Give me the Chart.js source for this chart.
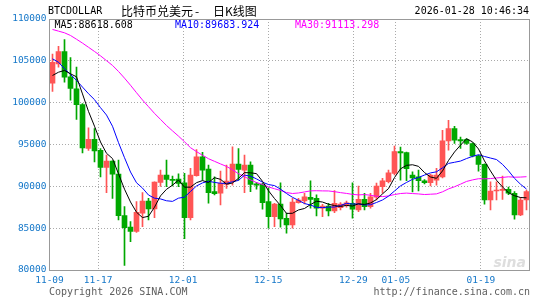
<!DOCTYPE html>
<html>
<head>
<meta charset="utf-8">
<script src="https://cdn.jsdelivr.net/npm/chart.js@4.4.1/dist/chart.umd.min.js"></script>
<style>
  html, body { margin: 0; padding: 0; background: #fff; }
  canvas { display: block; }
</style>
</head>
<body>
<canvas id="kline" width="545" height="300"></canvas>
<script>
// 日K 数据，11-09 起，每天一根
const days = [
  "11-09","11-10","11-11","11-12","11-13","11-14","11-15","11-16","11-17","11-18",
  "11-19","11-20","11-21","11-22","11-23","11-24","11-25","11-26","11-27","11-28",
  "11-29","11-30","12-01","12-02","12-03","12-04","12-05","12-06","12-07","12-08",
  "12-09","12-10","12-11","12-12","12-13","12-14","12-15","12-16","12-17","12-18",
  "12-19","12-20","12-21","12-22","12-23","12-24","12-25","12-26","12-27","12-28",
  "12-29","12-30","12-31","01-01","01-02","01-03","01-04","01-05","01-06","01-07",
  "01-08","01-09","01-10","01-11","01-12","01-13","01-14","01-15","01-16","01-17",
  "01-18","01-19","01-20","01-21","01-22","01-23","01-24","01-25","01-26","01-27"
];

const opens = [
  102330,104640,106100,103100,101650, 99760, 94520, 95630, 94300, 92260,
   93010, 91460, 86500, 85120, 84600, 86790, 88250, 87300, 90480, 91350,
   90830, 90870, 90430, 86260, 91260, 93520, 92060, 89360, 89170, 90240,
   90550, 92650, 91940, 92540, 90300, 90240, 88170, 86380, 87890, 86190,
   85390, 88050, 88250, 88690, 88570, 87380, 87650, 87060, 87450, 87700,
   87980, 87180, 88450, 87570, 88700, 89950, 90550, 91550, 94140, 94020,
   91350, 91140, 90670, 90430, 90750, 91140, 95430, 96900, 95600, 95600,
   95120, 93640, 92620, 88370, 89440, 89520, 89640, 89170, 86580, 88370
];
const highs = [
  105800,106740,107540,105400,104240, 99900, 96980, 96900, 94520, 93730,
   93050, 93130, 87570, 85790, 88170, 89240, 88570, 90550, 91940, 93130,
   91230, 91500, 91550, 92140, 94400, 94050, 92540, 91140, 91820, 92540,
   94710, 94520, 93730, 92930, 90480, 90360, 89830, 87980, 90430, 86790,
   88570, 88570, 89170, 90670, 88970, 87860, 87980, 89480, 88050, 88250,
   90430, 90040, 89170, 89170, 90390, 90950, 91940, 94800, 94700, 94100,
   91740, 91940, 90800, 91430, 92140, 96700, 97890, 97180, 95900, 95700,
   95200, 93730, 92700, 90550, 90550, 91230, 89900, 89360, 88700, 89560
];
const lows = [
  101350,104240,102450,100300, 98000, 94000, 94300, 92930, 91140, 89240,
   88570, 85990, 80550, 83400, 84500, 85190, 85990, 86260, 90000, 89950,
   90040, 89950, 83730, 85990, 91200, 90750, 87980, 88960, 87770, 89760,
   90150, 90750, 89240, 89360, 89650, 87260, 85000, 85190, 85120, 84400,
   85000, 87980, 87890, 87380, 86460, 86380, 86460, 86860, 87180, 87500,
   86190, 86980, 87180, 87400, 88370, 89170, 90400, 91350, 90750, 90670,
   89320, 89440, 90300, 90040, 90150, 91000, 94320, 95120, 94520, 95000,
   93520, 91820, 87860, 87180, 88370, 88450, 89000, 86070, 86500, 87180
];
const closes = [
  104830,106110,103050,101700, 99760, 94600, 95630, 94240, 92260, 93010,
   91460, 86500, 85070, 84600, 86900, 88250, 87300, 90500, 91350, 90830,
   90710, 90360, 86260, 91350, 93520, 91940, 89240, 89120, 90360, 90630,
   92650, 92020, 92540, 90240, 90140, 88050, 86380, 87890, 86110, 85390,
   88130, 88370, 88760, 88450, 87380, 87650, 87060, 87980, 87890, 88020,
   87260, 88450, 87570, 88760, 90040, 90670, 91620, 94140, 93990, 92120,
   91020, 90670, 90430, 91340, 91340, 95430, 96900, 95510, 95430, 95120,
   93640, 92620, 88370, 89440, 89560, 89640, 89170, 86580, 88370, 89360
];

// 均线开头几天缺少更早的收盘价，这部分从图上读取
const ma5Head = [103250, 103640, 103850, 103450];
const ma10Head = [105240, 104830, 104050, 103370, 102660, 101860, 101070, 100360, 99400];
const ma30Head = [
  108750,108550,108350,108030,107580,107120,106620,106120,105600,105020,
  104450,103730,102930,102080,101190,100320, 99520, 98720, 98000, 97270,
   96630, 96000, 95330, 94620, 94150, 93720, 93300, 92990, 92680
];

// 日期刻度（距 11-09 的天数）
const tickDays = [0, 8, 22, 36, 50, 57, 71];
const tickLabels = ["11-09", "11-17", "12-01", "12-15", "12-29", "01-05", "01-19"];
const yTicks = [80000, 85000, 90000, 95000, 100000, 105000, 110000];

function movingAvg(n, head) {
    return closes.map(function (c, i) {
        if (i < n - 1) return head[i];
        let s = 0;
        for (let k = i - n + 1; k <= i; k++) s += closes[k];
        return s / n;
    });
}

const ma5 = movingAvg(5, ma5Head);
const ma10 = movingAvg(10, ma10Head);
const ma30 = movingAvg(30, ma30Head);

const upColor = "#ff5555";
const downColor = "#00a800";
const axisBlue = "#1477c9";
const gridGray = "#aaaaaa";
const mono = "'DejaVu Sans Mono', monospace";
const cjk = "'Noto Sans CJK SC', sans-serif";

const candleColors = closes.map(function (c, i) { return c >= opens[i] ? upColor : downColor; });

// 边框、标题、均线数值、版权
const decorations = {
    id: "decorations",
    afterDraw: function (chart) {
        const ctx = chart.ctx;
        const a = chart.chartArea;
        const l = Math.floor(a.left) + 0.5, t = Math.floor(a.top) + 0.5;
        const r = Math.floor(a.right) + 0.5, b = Math.floor(a.bottom) + 0.5;
        ctx.save();
        ctx.strokeStyle = "#999";
        ctx.lineWidth = 1;
        ctx.strokeRect(l, t, r - l, b - t);

        ctx.textBaseline = "middle";
        ctx.font = "10px " + mono;
        ctx.fillStyle = "#000";
        ctx.textAlign = "left";
        ctx.fillText("BTCDOLLAR", 48, 11);
        ctx.textAlign = "right";
        ctx.fillText("2026-01-28 10:46:34", 529, 11);

        ctx.textAlign = "left";
        ctx.font = "12px " + cjk;
        ctx.fillText("比特币兑美元", 121, 11);
        ctx.fillText("-", 195, 11);
        ctx.fillText("日K线图", 213, 11);

        ctx.font = "10px " + mono;
        ctx.fillStyle = "#000";
        ctx.fillText("MA5:88618.608", 54.5, 25);
        ctx.fillStyle = "#0000ff";
        ctx.fillText("MA10:89683.924", 175, 25);
        ctx.fillStyle = "#ff00ff";
        ctx.fillText("MA30:91113.298", 295, 25);

        ctx.fillStyle = "#606060";
        ctx.fillText("Copyright 2026 SINA.COM", 49, 292.5);
        ctx.textAlign = "right";
        ctx.fillText("http://finance.sina.com.cn", 530, 292.5);

        ctx.font = "italic bold 14px 'DejaVu Sans', sans-serif";
        ctx.fillStyle = "#dedede";
        ctx.textBaseline = "alphabetic";
        ctx.fillText("sina", 526, 267);
        ctx.restore();
    }
};

new Chart(document.getElementById("kline"), {
    type: "bar",
    data: {
        labels: days,
        datasets: [
            { type: "line", label: "MA5", data: ma5, borderColor: "#000000", borderWidth: 1,
              pointRadius: 0, tension: 0, order: 0, xAxisID: "x", yAxisID: "y" },
            { type: "line", label: "MA10", data: ma10, borderColor: "#0000ff", borderWidth: 1,
              pointRadius: 0, tension: 0, order: 0, xAxisID: "x", yAxisID: "y" },
            { type: "line", label: "MA30", data: ma30, borderColor: "#ff00ff", borderWidth: 1,
              pointRadius: 0, tension: 0, order: 0, xAxisID: "x", yAxisID: "y" },
            { label: "body", data: opens.map(function (o, i) { return [o, closes[i]]; }),
              backgroundColor: candleColors, borderWidth: 0, barThickness: 5, minBarLength: 1,
              grouped: false, order: 1, xAxisID: "x", yAxisID: "y" },
            { label: "wick", data: lows.map(function (lo, i) { return [lo, highs[i]]; }),
              backgroundColor: candleColors, borderWidth: 0, barThickness: 1,
              grouped: false, order: 2, xAxisID: "x", yAxisID: "y" }
        ]
    },
    options: {
        responsive: false,
        animation: false,
        devicePixelRatio: 1,
        layout: { padding: { top: 19, right: 15.5, left: 0, bottom: 0 } },
        plugins: {
            legend: { display: false },
            tooltip: { enabled: false }
        },
        scales: {
            x: {
                type: "category",
                display: false,
                offset: true
            },
            xd: {
                type: "linear",
                position: "bottom",
                min: 0,
                max: 79,
                offset: false,
                afterBuildTicks: function (s) { s.ticks = tickDays.map(function (v) { return { value: v }; }); },
                afterFit: function (s) { s.height = 30; },
                ticks: {
                    autoSkip: false,
                    maxRotation: 0,
                    color: axisBlue,
                    padding: 5,
                    font: { family: mono, size: 9.5 },
                    callback: function (v, i) { return tickLabels[i]; }
                },
                grid: {
                    offset: false,
                    drawTicks: false,
                    color: function (c) { return c.tick && c.tick.value === 0 ? "rgba(0,0,0,0)" : gridGray; }
                },
                border: { display: false, dash: [1, 2] }
            },
            y: {
                type: "linear",
                position: "left",
                min: 80000,
                max: 110000,
                afterBuildTicks: function (s) { s.ticks = yTicks.map(function (v) { return { value: v }; }); },
                afterFit: function (s) { s.width = 49.5; },
                ticks: {
                    color: axisBlue,
                    padding: 3,
                    font: { family: mono, size: 9.5 },
                    callback: function (v) { return String(v); }
                },
                grid: {
                    drawTicks: false,
                    color: function (c) {
                        const v = c.tick ? c.tick.value : 0;
                        return (v === 80000 || v === 110000) ? "rgba(0,0,0,0)" : gridGray;
                    }
                },
                border: { display: false, dash: [1, 2] }
            }
        }
    },
    plugins: [decorations]
});
</script>
</body>
</html>
